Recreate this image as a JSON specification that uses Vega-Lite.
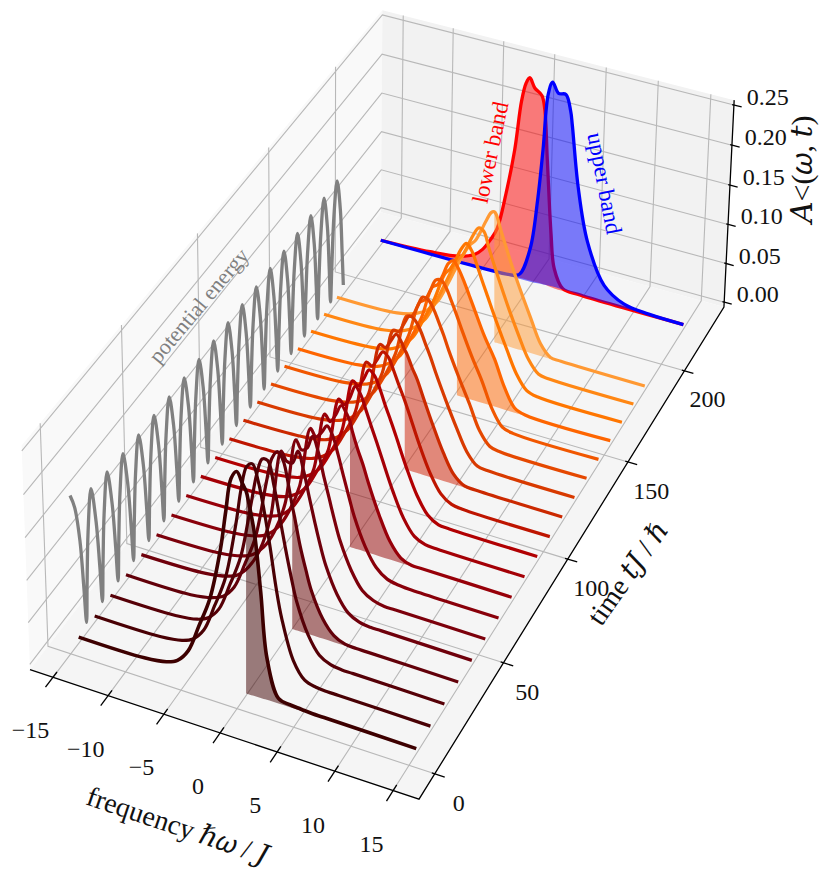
{
"$schema":"https://vega.github.io/schema/vega-lite/v6.json",
"autosize":{"type":"fit","contains":"padding"},
"width":829,"height":871,"padding":0,
"background":"white",
"config":{"view":{"stroke":null},"text":{"font":"Liberation Serif, DejaVu Serif","color":"#111111"}},
"data":{"values":[
{"k":"pane","id":"left","i":0,"w":-17.1,"t":-10.96,"a":-0.0063},{"k":"pane","id":"left","i":1,"w":-17.1,"t":236.9,"a":-0.0063},{"k":"pane","id":"left","i":2,"w":-17.1,"t":236.9,"a":0.256},{"k":"pane","id":"left","i":3,"w":-17.1,"t":-10.96,"a":0.256},
{"k":"pane","id":"back","i":0,"w":-17.1,"t":236.9,"a":-0.0063},{"k":"pane","id":"back","i":1,"w":17.2,"t":236.9,"a":-0.0063},{"k":"pane","id":"back","i":2,"w":17.2,"t":236.9,"a":0.256},{"k":"pane","id":"back","i":3,"w":-17.1,"t":236.9,"a":0.256},
{"k":"pane","id":"floor","i":0,"w":-17.1,"t":-10.96,"a":-0.0063},{"k":"pane","id":"floor","i":1,"w":17.2,"t":-10.96,"a":-0.0063},{"k":"pane","id":"floor","i":2,"w":17.2,"t":236.9,"a":-0.0063},{"k":"pane","id":"floor","i":3,"w":-17.1,"t":236.9,"a":-0.0063},

{"k":"grid","id":"w-15","i":0,"w":-15,"t":-10.96,"a":-0.0063},{"k":"grid","id":"w-15","i":1,"w":-15,"t":236.9,"a":-0.0063},{"k":"grid","id":"w-15","i":2,"w":-15,"t":236.9,"a":0.256},
{"k":"grid","id":"w-10","i":0,"w":-10,"t":-10.96,"a":-0.0063},{"k":"grid","id":"w-10","i":1,"w":-10,"t":236.9,"a":-0.0063},{"k":"grid","id":"w-10","i":2,"w":-10,"t":236.9,"a":0.256},
{"k":"grid","id":"w-5","i":0,"w":-5,"t":-10.96,"a":-0.0063},{"k":"grid","id":"w-5","i":1,"w":-5,"t":236.9,"a":-0.0063},{"k":"grid","id":"w-5","i":2,"w":-5,"t":236.9,"a":0.256},
{"k":"grid","id":"w0","i":0,"w":0,"t":-10.96,"a":-0.0063},{"k":"grid","id":"w0","i":1,"w":0,"t":236.9,"a":-0.0063},{"k":"grid","id":"w0","i":2,"w":0,"t":236.9,"a":0.256},
{"k":"grid","id":"w5","i":0,"w":5,"t":-10.96,"a":-0.0063},{"k":"grid","id":"w5","i":1,"w":5,"t":236.9,"a":-0.0063},{"k":"grid","id":"w5","i":2,"w":5,"t":236.9,"a":0.256},
{"k":"grid","id":"w10","i":0,"w":10,"t":-10.96,"a":-0.0063},{"k":"grid","id":"w10","i":1,"w":10,"t":236.9,"a":-0.0063},{"k":"grid","id":"w10","i":2,"w":10,"t":236.9,"a":0.256},
{"k":"grid","id":"w15","i":0,"w":15,"t":-10.96,"a":-0.0063},{"k":"grid","id":"w15","i":1,"w":15,"t":236.9,"a":-0.0063},{"k":"grid","id":"w15","i":2,"w":15,"t":236.9,"a":0.256},
{"k":"grid","id":"t0","i":0,"w":17.2,"t":0,"a":-0.0063},{"k":"grid","id":"t0","i":1,"w":-17.1,"t":0,"a":-0.0063},{"k":"grid","id":"t0","i":2,"w":-17.1,"t":0,"a":0.256},
{"k":"grid","id":"t50","i":0,"w":17.2,"t":50,"a":-0.0063},{"k":"grid","id":"t50","i":1,"w":-17.1,"t":50,"a":-0.0063},{"k":"grid","id":"t50","i":2,"w":-17.1,"t":50,"a":0.256},
{"k":"grid","id":"t100","i":0,"w":17.2,"t":100,"a":-0.0063},{"k":"grid","id":"t100","i":1,"w":-17.1,"t":100,"a":-0.0063},{"k":"grid","id":"t100","i":2,"w":-17.1,"t":100,"a":0.256},
{"k":"grid","id":"t150","i":0,"w":17.2,"t":150,"a":-0.0063},{"k":"grid","id":"t150","i":1,"w":-17.1,"t":150,"a":-0.0063},{"k":"grid","id":"t150","i":2,"w":-17.1,"t":150,"a":0.256},
{"k":"grid","id":"t200","i":0,"w":17.2,"t":200,"a":-0.0063},{"k":"grid","id":"t200","i":1,"w":-17.1,"t":200,"a":-0.0063},{"k":"grid","id":"t200","i":2,"w":-17.1,"t":200,"a":0.256},
{"k":"grid","id":"a0","i":0,"w":-17.1,"t":-10.96,"a":0},{"k":"grid","id":"a0","i":1,"w":-17.1,"t":236.9,"a":0},{"k":"grid","id":"a0","i":2,"w":17.2,"t":236.9,"a":0},
{"k":"grid","id":"a5","i":0,"w":-17.1,"t":-10.96,"a":0.05},{"k":"grid","id":"a5","i":1,"w":-17.1,"t":236.9,"a":0.05},{"k":"grid","id":"a5","i":2,"w":17.2,"t":236.9,"a":0.05},
{"k":"grid","id":"a10","i":0,"w":-17.1,"t":-10.96,"a":0.1},{"k":"grid","id":"a10","i":1,"w":-17.1,"t":236.9,"a":0.1},{"k":"grid","id":"a10","i":2,"w":17.2,"t":236.9,"a":0.1},
{"k":"grid","id":"a15","i":0,"w":-17.1,"t":-10.96,"a":0.15},{"k":"grid","id":"a15","i":1,"w":-17.1,"t":236.9,"a":0.15},{"k":"grid","id":"a15","i":2,"w":17.2,"t":236.9,"a":0.15},
{"k":"grid","id":"a20","i":0,"w":-17.1,"t":-10.96,"a":0.2},{"k":"grid","id":"a20","i":1,"w":-17.1,"t":236.9,"a":0.2},{"k":"grid","id":"a20","i":2,"w":17.2,"t":236.9,"a":0.2},
{"k":"grid","id":"a25","i":0,"w":-17.1,"t":-10.96,"a":0.25},{"k":"grid","id":"a25","i":1,"w":-17.1,"t":236.9,"a":0.25},{"k":"grid","id":"a25","i":2,"w":17.2,"t":236.9,"a":0.25},

{"k":"axis","id":"box","i":0,"w":-17.1,"t":-10.96,"a":-0.0063},{"k":"axis","id":"box","i":1,"w":17.2,"t":-10.96,"a":-0.0063},{"k":"axis","id":"box","i":2,"w":17.2,"t":236.9,"a":-0.0063},{"k":"axis","id":"box","i":3,"w":17.2,"t":236.9,"a":0.256},

{"k":"axis","id":"xt-15","i":0,"w":-15,"t":-8.5,"a":-0.0063},{"k":"axis","id":"xt-15","i":1,"w":-15,"t":-15.5,"a":-0.0063},
{"k":"axis","id":"xt-10","i":0,"w":-10,"t":-8.5,"a":-0.0063},{"k":"axis","id":"xt-10","i":1,"w":-10,"t":-15.5,"a":-0.0063},
{"k":"axis","id":"xt-5","i":0,"w":-5,"t":-8.5,"a":-0.0063},{"k":"axis","id":"xt-5","i":1,"w":-5,"t":-15.5,"a":-0.0063},
{"k":"axis","id":"xt0","i":0,"w":0,"t":-8.5,"a":-0.0063},{"k":"axis","id":"xt0","i":1,"w":0,"t":-15.5,"a":-0.0063},
{"k":"axis","id":"xt5","i":0,"w":5,"t":-8.5,"a":-0.0063},{"k":"axis","id":"xt5","i":1,"w":5,"t":-15.5,"a":-0.0063},
{"k":"axis","id":"xt10","i":0,"w":10,"t":-8.5,"a":-0.0063},{"k":"axis","id":"xt10","i":1,"w":10,"t":-15.5,"a":-0.0063},
{"k":"axis","id":"xt15","i":0,"w":15,"t":-8.5,"a":-0.0063},{"k":"axis","id":"xt15","i":1,"w":15,"t":-15.5,"a":-0.0063},
{"k":"axis","id":"yt0","i":0,"w":16.95,"t":0,"a":-0.0063},{"k":"axis","id":"yt0","i":1,"w":18.05,"t":0,"a":-0.0063},
{"k":"axis","id":"yt50","i":0,"w":16.95,"t":50,"a":-0.0063},{"k":"axis","id":"yt50","i":1,"w":18.05,"t":50,"a":-0.0063},
{"k":"axis","id":"yt100","i":0,"w":16.95,"t":100,"a":-0.0063},{"k":"axis","id":"yt100","i":1,"w":18.05,"t":100,"a":-0.0063},
{"k":"axis","id":"yt150","i":0,"w":16.95,"t":150,"a":-0.0063},{"k":"axis","id":"yt150","i":1,"w":18.05,"t":150,"a":-0.0063},
{"k":"axis","id":"yt200","i":0,"w":16.95,"t":200,"a":-0.0063},{"k":"axis","id":"yt200","i":1,"w":18.05,"t":200,"a":-0.0063},
{"k":"axis","id":"zt0","i":0,"w":17.03,"t":236.9,"a":0},{"k":"axis","id":"zt0","i":1,"w":17.93,"t":236.9,"a":0},
{"k":"axis","id":"zt5","i":0,"w":17.03,"t":236.9,"a":0.05},{"k":"axis","id":"zt5","i":1,"w":17.93,"t":236.9,"a":0.05},
{"k":"axis","id":"zt10","i":0,"w":17.03,"t":236.9,"a":0.1},{"k":"axis","id":"zt10","i":1,"w":17.93,"t":236.9,"a":0.1},
{"k":"axis","id":"zt15","i":0,"w":17.03,"t":236.9,"a":0.15},{"k":"axis","id":"zt15","i":1,"w":17.93,"t":236.9,"a":0.15},
{"k":"axis","id":"zt20","i":0,"w":17.03,"t":236.9,"a":0.2},{"k":"axis","id":"zt20","i":1,"w":17.93,"t":236.9,"a":0.2},
{"k":"axis","id":"zt25","i":0,"w":17.03,"t":236.9,"a":0.25},{"k":"axis","id":"zt25","i":1,"w":17.93,"t":236.9,"a":0.25},

{"k":"lx","l":"−15","w":-15,"t":-15.5,"a":-0.0063},{"k":"lx","l":"−10","w":-10,"t":-15.5,"a":-0.0063},{"k":"lx","l":"−5","w":-5,"t":-15.5,"a":-0.0063},{"k":"lx","l":"0","w":0,"t":-15.5,"a":-0.0063},{"k":"lx","l":"5","w":5,"t":-15.5,"a":-0.0063},{"k":"lx","l":"10","w":10,"t":-15.5,"a":-0.0063},{"k":"lx","l":"15","w":15,"t":-15.5,"a":-0.0063},
{"k":"ly","l":"0","w":18.05,"t":0,"a":-0.0063},{"k":"ly","l":"50","w":18.05,"t":50,"a":-0.0063},{"k":"ly","l":"100","w":18.05,"t":100,"a":-0.0063},{"k":"ly","l":"150","w":18.05,"t":150,"a":-0.0063},{"k":"ly","l":"200","w":18.05,"t":200,"a":-0.0063},
{"k":"lz","l":"0.00","w":17.93,"t":236.9,"a":0},{"k":"lz","l":"0.05","w":17.93,"t":236.9,"a":0.05},{"k":"lz","l":"0.10","w":17.93,"t":236.9,"a":0.1},{"k":"lz","l":"0.15","w":17.93,"t":236.9,"a":0.15},{"k":"lz","l":"0.20","w":17.93,"t":236.9,"a":0.2},{"k":"lz","l":"0.25","w":17.93,"t":236.9,"a":0.25},
{"k":"tx","l":"frequency ℏ𝜔 / 𝐽","w":1.55,"t":-49.1,"a":-0.0063},
{"k":"ty","l":"time 𝑡𝐽 / ℏ","w":22.5,"t":101.6,"a":-0.0063},
{"k":"tz","l":"𝐴˂(𝜔, 𝑡)","w":16.67,"t":321.7,"a":-0.0063},
{"k":"tp","l":"potential energy","w":-17.1,"t":100.3,"a":0.168},
{"k":"tl","l":"lower band","w":-4.1,"t":220,"a":0.152},
{"k":"tu","l":"upper band","w":6.9,"t":220,"a":0.151},

{"k":"p","t":2.5,"a":0.175},{"k":"p","t":5,"a":0.155},{"k":"p","t":7.5,"a":0.11},{"k":"p","t":9,"a":0.05},{"k":"p","t":10,"a":0.006},
{"k":"p","t":11,"a":0.05},{"k":"p","t":12.5,"a":0.108},{"k":"p","t":15,"a":0.153},{"k":"p","t":17.5,"a":0.108},{"k":"p","t":19,"a":0.05},{"k":"p","t":20,"a":0.006},
{"k":"p","t":21,"a":0.05},{"k":"p","t":22.5,"a":0.106},{"k":"p","t":25,"a":0.149},{"k":"p","t":27.5,"a":0.106},{"k":"p","t":29,"a":0.05},{"k":"p","t":30,"a":0.006},
{"k":"p","t":31,"a":0.05},{"k":"p","t":32.5,"a":0.105},{"k":"p","t":35,"a":0.147},{"k":"p","t":37.5,"a":0.105},{"k":"p","t":39,"a":0.05},{"k":"p","t":40,"a":0.006},
{"k":"p","t":41,"a":0.05},{"k":"p","t":42.5,"a":0.105},{"k":"p","t":45,"a":0.146},{"k":"p","t":47.5,"a":0.105},{"k":"p","t":49,"a":0.05},{"k":"p","t":50,"a":0.006},
{"k":"p","t":51,"a":0.05},{"k":"p","t":52.5,"a":0.105},{"k":"p","t":55,"a":0.146},{"k":"p","t":57.5,"a":0.105},{"k":"p","t":59,"a":0.05},{"k":"p","t":60,"a":0.006},
{"k":"p","t":61,"a":0.05},{"k":"p","t":62.5,"a":0.105},{"k":"p","t":65,"a":0.145},{"k":"p","t":67.5,"a":0.105},{"k":"p","t":69,"a":0.05},{"k":"p","t":70,"a":0.006},
{"k":"p","t":71,"a":0.05},{"k":"p","t":72.5,"a":0.105},{"k":"p","t":75,"a":0.145},{"k":"p","t":77.5,"a":0.105},{"k":"p","t":79,"a":0.05},{"k":"p","t":80,"a":0.006},
{"k":"p","t":81,"a":0.05},{"k":"p","t":82.5,"a":0.105},{"k":"p","t":85,"a":0.145},{"k":"p","t":87.5,"a":0.105},{"k":"p","t":89,"a":0.05},{"k":"p","t":90,"a":0.006},
{"k":"p","t":91,"a":0.05},{"k":"p","t":92.5,"a":0.105},{"k":"p","t":95,"a":0.145},{"k":"p","t":97.5,"a":0.105},{"k":"p","t":99,"a":0.05},{"k":"p","t":100,"a":0.006},
{"k":"p","t":101,"a":0.05},{"k":"p","t":102.5,"a":0.105},{"k":"p","t":105,"a":0.145},{"k":"p","t":107.5,"a":0.105},{"k":"p","t":109,"a":0.05},{"k":"p","t":110,"a":0.006},
{"k":"p","t":111,"a":0.05},{"k":"p","t":112.5,"a":0.105},{"k":"p","t":115,"a":0.145},{"k":"p","t":117.5,"a":0.105},{"k":"p","t":119,"a":0.05},{"k":"p","t":120,"a":0.006},
{"k":"p","t":121,"a":0.05},{"k":"p","t":122.5,"a":0.105},{"k":"p","t":125,"a":0.145},{"k":"p","t":127.5,"a":0.105},{"k":"p","t":129,"a":0.05},{"k":"p","t":130,"a":0.006},
{"k":"p","t":131,"a":0.05},{"k":"p","t":132.5,"a":0.106},{"k":"p","t":135,"a":0.146},{"k":"p","t":137.5,"a":0.106},{"k":"p","t":139,"a":0.05},{"k":"p","t":140,"a":0.006},
{"k":"p","t":141,"a":0.05},{"k":"p","t":142.5,"a":0.106},{"k":"p","t":145,"a":0.146},{"k":"p","t":147.5,"a":0.106},{"k":"p","t":149,"a":0.05},{"k":"p","t":150,"a":0.006},
{"k":"p","t":151,"a":0.05},{"k":"p","t":152.5,"a":0.106},{"k":"p","t":155,"a":0.147},{"k":"p","t":157.5,"a":0.106},{"k":"p","t":159,"a":0.05},{"k":"p","t":160,"a":0.006},
{"k":"p","t":161,"a":0.05},{"k":"p","t":162.5,"a":0.107},{"k":"p","t":165,"a":0.148},{"k":"p","t":167.5,"a":0.107},{"k":"p","t":169,"a":0.05},{"k":"p","t":170,"a":0.006},
{"k":"p","t":171,"a":0.05},{"k":"p","t":172.5,"a":0.108},{"k":"p","t":175,"a":0.149},{"k":"p","t":177.5,"a":0.108},{"k":"p","t":179,"a":0.05},{"k":"p","t":180,"a":0.006},
{"k":"p","t":181,"a":0.05},{"k":"p","t":182.5,"a":0.109},{"k":"p","t":185,"a":0.15},{"k":"p","t":187.5,"a":0.109},{"k":"p","t":189,"a":0.05},{"k":"p","t":190,"a":0.006},

{"k":"red","t":220,"w":-15,"a":0},{"k":"red","t":220,"w":-10,"a":0.003},{"k":"red","t":220,"w":-7,"a":0.008},{"k":"red","t":220,"w":-5.5,"a":0.016},{"k":"red","t":220,"w":-4.75,"a":0.025},{"k":"red","t":220,"w":-4,"a":0.04},{"k":"red","t":220,"w":-3.35,"a":0.057},{"k":"red","t":220,"w":-2.55,"a":0.105},{"k":"red","t":220,"w":-1.8,"a":0.163},{"k":"red","t":220,"w":-1.25,"a":0.226},{"k":"red","t":220,"w":-0.85,"a":0.25},{"k":"red","t":220,"w":-0.5,"a":0.258},{"k":"red","t":220,"w":0,"a":0.247},{"k":"red","t":220,"w":0.7,"a":0.24},{"k":"red","t":220,"w":1,"a":0.225},{"k":"red","t":220,"w":1.4,"a":0.16},{"k":"red","t":220,"w":1.95,"a":0.069},{"k":"red","t":220,"w":2.35,"a":0.026},{"k":"red","t":220,"w":3.25,"a":0.003},{"k":"red","t":220,"w":5,"a":0.001},{"k":"red","t":220,"w":15,"a":0},
{"k":"blue","t":220,"w":-15,"a":0},{"k":"blue","t":220,"w":-5,"a":0.0005},{"k":"blue","t":220,"w":-2,"a":0.002},{"k":"blue","t":220,"w":-1.05,"a":0.006},{"k":"blue","t":220,"w":-0.05,"a":0.043},{"k":"blue","t":220,"w":0.55,"a":0.107},{"k":"blue","t":220,"w":0.95,"a":0.173},{"k":"blue","t":220,"w":1.3,"a":0.243},{"k":"blue","t":220,"w":1.7,"a":0.26},{"k":"blue","t":220,"w":2.3,"a":0.248},{"k":"blue","t":220,"w":3,"a":0.249},{"k":"blue","t":220,"w":3.5,"a":0.23},{"k":"blue","t":220,"w":3.7,"a":0.213},{"k":"blue","t":220,"w":4.45,"a":0.137},{"k":"blue","t":220,"w":5.5,"a":0.072},{"k":"blue","t":220,"w":7.25,"a":0.022},{"k":"blue","t":220,"w":9.25,"a":0.005},{"k":"blue","t":220,"w":11.65,"a":0.001},{"k":"blue","t":220,"w":15,"a":0},

{"k":"s","t":185,"w":-15,"a":0.001},{"k":"s","t":185,"w":-9,"a":0.003},{"k":"s","t":185,"w":-7,"a":0.01},{"k":"s","t":185,"w":-6,"a":0.018},{"k":"s","t":185,"w":-5,"a":0.033},{"k":"s","t":185,"w":-4,"a":0.06},{"k":"s","t":185,"w":-3,"a":0.09},{"k":"s","t":185,"w":-2,"a":0.115},{"k":"s","t":185,"w":-1.5,"a":0.122},{"k":"s","t":185,"w":-1,"a":0.135},{"k":"s","t":185,"w":-0.5,"a":0.15},{"k":"s","t":185,"w":0,"a":0.163},{"k":"s","t":185,"w":0.3,"a":0.165},{"k":"s","t":185,"w":0.5,"a":0.162},{"k":"s","t":185,"w":1,"a":0.143},{"k":"s","t":185,"w":1.5,"a":0.125},{"k":"s","t":185,"w":2,"a":0.107},{"k":"s","t":185,"w":3,"a":0.075},{"k":"s","t":185,"w":4,"a":0.045},{"k":"s","t":185,"w":5,"a":0.016},{"k":"s","t":185,"w":6,"a":0.002},{"k":"s","t":185,"w":7,"a":0.001},{"k":"s","t":185,"w":15,"a":0},
{"k":"s","t":175,"w":-15,"a":0.001},{"k":"s","t":175,"w":-9,"a":0.003},{"k":"s","t":175,"w":-7,"a":0.01},{"k":"s","t":175,"w":-6,"a":0.018},{"k":"s","t":175,"w":-5,"a":0.032},{"k":"s","t":175,"w":-4,"a":0.058},{"k":"s","t":175,"w":-3,"a":0.088},{"k":"s","t":175,"w":-2,"a":0.118},{"k":"s","t":175,"w":-1.5,"a":0.126},{"k":"s","t":175,"w":-1,"a":0.14},{"k":"s","t":175,"w":-0.5,"a":0.155},{"k":"s","t":175,"w":0,"a":0.165},{"k":"s","t":175,"w":0.5,"a":0.162},{"k":"s","t":175,"w":1,"a":0.143},{"k":"s","t":175,"w":1.5,"a":0.125},{"k":"s","t":175,"w":2,"a":0.108},{"k":"s","t":175,"w":3,"a":0.075},{"k":"s","t":175,"w":4,"a":0.045},{"k":"s","t":175,"w":5,"a":0.018},{"k":"s","t":175,"w":6,"a":0.003},{"k":"s","t":175,"w":7,"a":0.001},{"k":"s","t":175,"w":15,"a":0},
{"k":"s","t":165,"w":-15,"a":0.001},{"k":"s","t":165,"w":-9,"a":0.003},{"k":"s","t":165,"w":-7,"a":0.009},{"k":"s","t":165,"w":-6,"a":0.017},{"k":"s","t":165,"w":-5,"a":0.031},{"k":"s","t":165,"w":-4,"a":0.057},{"k":"s","t":165,"w":-3,"a":0.086},{"k":"s","t":165,"w":-2,"a":0.122},{"k":"s","t":165,"w":-1.5,"a":0.13},{"k":"s","t":165,"w":-1,"a":0.143},{"k":"s","t":165,"w":-0.5,"a":0.158},{"k":"s","t":165,"w":0,"a":0.167},{"k":"s","t":165,"w":0.5,"a":0.16},{"k":"s","t":165,"w":1,"a":0.145},{"k":"s","t":165,"w":1.5,"a":0.128},{"k":"s","t":165,"w":2,"a":0.112},{"k":"s","t":165,"w":3,"a":0.08},{"k":"s","t":165,"w":4,"a":0.05},{"k":"s","t":165,"w":5,"a":0.022},{"k":"s","t":165,"w":6,"a":0.005},{"k":"s","t":165,"w":7,"a":0.001},{"k":"s","t":165,"w":15,"a":0},
{"k":"s","t":155,"w":-15,"a":0.001},{"k":"s","t":155,"w":-9,"a":0.003},{"k":"s","t":155,"w":-7,"a":0.009},{"k":"s","t":155,"w":-6,"a":0.017},{"k":"s","t":155,"w":-5,"a":0.03},{"k":"s","t":155,"w":-4,"a":0.056},{"k":"s","t":155,"w":-3,"a":0.085},{"k":"s","t":155,"w":-2,"a":0.127},{"k":"s","t":155,"w":-1.5,"a":0.132},{"k":"s","t":155,"w":-1,"a":0.146},{"k":"s","t":155,"w":-0.5,"a":0.162},{"k":"s","t":155,"w":0,"a":0.167},{"k":"s","t":155,"w":0.3,"a":0.162},{"k":"s","t":155,"w":0.5,"a":0.158},{"k":"s","t":155,"w":1,"a":0.145},{"k":"s","t":155,"w":1.5,"a":0.13},{"k":"s","t":155,"w":2,"a":0.115},{"k":"s","t":155,"w":3,"a":0.085},{"k":"s","t":155,"w":4,"a":0.06},{"k":"s","t":155,"w":5,"a":0.028},{"k":"s","t":155,"w":6,"a":0.006},{"k":"s","t":155,"w":7,"a":0.001},{"k":"s","t":155,"w":15,"a":0},
{"k":"s","t":145,"w":-15,"a":0.001},{"k":"s","t":145,"w":-9,"a":0.003},{"k":"s","t":145,"w":-7,"a":0.009},{"k":"s","t":145,"w":-6,"a":0.016},{"k":"s","t":145,"w":-5,"a":0.03},{"k":"s","t":145,"w":-4,"a":0.055},{"k":"s","t":145,"w":-3,"a":0.085},{"k":"s","t":145,"w":-2,"a":0.13},{"k":"s","t":145,"w":-1.5,"a":0.135},{"k":"s","t":145,"w":-1,"a":0.148},{"k":"s","t":145,"w":-0.5,"a":0.163},{"k":"s","t":145,"w":0,"a":0.165},{"k":"s","t":145,"w":0.5,"a":0.157},{"k":"s","t":145,"w":1,"a":0.143},{"k":"s","t":145,"w":1.5,"a":0.128},{"k":"s","t":145,"w":2,"a":0.112},{"k":"s","t":145,"w":3,"a":0.082},{"k":"s","t":145,"w":4,"a":0.055},{"k":"s","t":145,"w":5,"a":0.024},{"k":"s","t":145,"w":6,"a":0.005},{"k":"s","t":145,"w":7,"a":0.001},{"k":"s","t":145,"w":15,"a":0},
{"k":"s","t":135,"w":-15,"a":0.001},{"k":"s","t":135,"w":-9,"a":0.003},{"k":"s","t":135,"w":-7,"a":0.009},{"k":"s","t":135,"w":-6,"a":0.016},{"k":"s","t":135,"w":-5,"a":0.03},{"k":"s","t":135,"w":-4,"a":0.054},{"k":"s","t":135,"w":-3,"a":0.085},{"k":"s","t":135,"w":-2,"a":0.135},{"k":"s","t":135,"w":-1.5,"a":0.137},{"k":"s","t":135,"w":-1,"a":0.15},{"k":"s","t":135,"w":-0.5,"a":0.164},{"k":"s","t":135,"w":0,"a":0.163},{"k":"s","t":135,"w":0.5,"a":0.154},{"k":"s","t":135,"w":1,"a":0.14},{"k":"s","t":135,"w":1.5,"a":0.125},{"k":"s","t":135,"w":2,"a":0.108},{"k":"s","t":135,"w":3,"a":0.078},{"k":"s","t":135,"w":4,"a":0.05},{"k":"s","t":135,"w":5,"a":0.02},{"k":"s","t":135,"w":6,"a":0.004},{"k":"s","t":135,"w":7,"a":0.001},{"k":"s","t":135,"w":15,"a":0},
{"k":"s","t":125,"w":-15,"a":0.001},{"k":"s","t":125,"w":-9,"a":0.003},{"k":"s","t":125,"w":-7,"a":0.009},{"k":"s","t":125,"w":-6,"a":0.016},{"k":"s","t":125,"w":-5,"a":0.029},{"k":"s","t":125,"w":-4,"a":0.053},{"k":"s","t":125,"w":-3,"a":0.084},{"k":"s","t":125,"w":-2,"a":0.14},{"k":"s","t":125,"w":-1.5,"a":0.14},{"k":"s","t":125,"w":-1,"a":0.152},{"k":"s","t":125,"w":-0.5,"a":0.163},{"k":"s","t":125,"w":0,"a":0.16},{"k":"s","t":125,"w":0.5,"a":0.15},{"k":"s","t":125,"w":1,"a":0.135},{"k":"s","t":125,"w":1.5,"a":0.12},{"k":"s","t":125,"w":2,"a":0.103},{"k":"s","t":125,"w":3,"a":0.072},{"k":"s","t":125,"w":4,"a":0.043},{"k":"s","t":125,"w":5,"a":0.017},{"k":"s","t":125,"w":6,"a":0.003},{"k":"s","t":125,"w":7,"a":0.001},{"k":"s","t":125,"w":15,"a":0},
{"k":"s","t":115,"w":-15,"a":0.001},{"k":"s","t":115,"w":-9,"a":0.003},{"k":"s","t":115,"w":-7,"a":0.008},{"k":"s","t":115,"w":-6,"a":0.015},{"k":"s","t":115,"w":-5,"a":0.028},{"k":"s","t":115,"w":-4,"a":0.052},{"k":"s","t":115,"w":-3,"a":0.082},{"k":"s","t":115,"w":-2,"a":0.145},{"k":"s","t":115,"w":-1.5,"a":0.143},{"k":"s","t":115,"w":-1,"a":0.153},{"k":"s","t":115,"w":-0.5,"a":0.163},{"k":"s","t":115,"w":0,"a":0.155},{"k":"s","t":115,"w":0.3,"a":0.147},{"k":"s","t":115,"w":0.5,"a":0.143},{"k":"s","t":115,"w":1,"a":0.128},{"k":"s","t":115,"w":1.5,"a":0.115},{"k":"s","t":115,"w":2,"a":0.098},{"k":"s","t":115,"w":3,"a":0.065},{"k":"s","t":115,"w":4,"a":0.035},{"k":"s","t":115,"w":5,"a":0.012},{"k":"s","t":115,"w":6,"a":0.002},{"k":"s","t":115,"w":7,"a":0.001},{"k":"s","t":115,"w":15,"a":0},
{"k":"s","t":105,"w":-15,"a":0.001},{"k":"s","t":105,"w":-9,"a":0.003},{"k":"s","t":105,"w":-7,"a":0.008},{"k":"s","t":105,"w":-6,"a":0.015},{"k":"s","t":105,"w":-5,"a":0.028},{"k":"s","t":105,"w":-4,"a":0.052},{"k":"s","t":105,"w":-3,"a":0.082},{"k":"s","t":105,"w":-2,"a":0.146},{"k":"s","t":105,"w":-1.5,"a":0.143},{"k":"s","t":105,"w":-1,"a":0.153},{"k":"s","t":105,"w":-0.5,"a":0.164},{"k":"s","t":105,"w":0,"a":0.16},{"k":"s","t":105,"w":0.5,"a":0.146},{"k":"s","t":105,"w":1,"a":0.13},{"k":"s","t":105,"w":1.5,"a":0.115},{"k":"s","t":105,"w":2,"a":0.098},{"k":"s","t":105,"w":3,"a":0.063},{"k":"s","t":105,"w":4,"a":0.033},{"k":"s","t":105,"w":5,"a":0.012},{"k":"s","t":105,"w":6,"a":0.003},{"k":"s","t":105,"w":7,"a":0.001},{"k":"s","t":105,"w":15,"a":0},
{"k":"s","t":95,"w":-15,"a":0.001},{"k":"s","t":95,"w":-9,"a":0.003},{"k":"s","t":95,"w":-7,"a":0.008},{"k":"s","t":95,"w":-6,"a":0.015},{"k":"s","t":95,"w":-5,"a":0.028},{"k":"s","t":95,"w":-4,"a":0.052},{"k":"s","t":95,"w":-3,"a":0.081},{"k":"s","t":95,"w":-2,"a":0.146},{"k":"s","t":95,"w":-1.5,"a":0.142},{"k":"s","t":95,"w":-1,"a":0.152},{"k":"s","t":95,"w":-0.5,"a":0.165},{"k":"s","t":95,"w":0,"a":0.16},{"k":"s","t":95,"w":0.5,"a":0.146},{"k":"s","t":95,"w":1,"a":0.128},{"k":"s","t":95,"w":1.5,"a":0.112},{"k":"s","t":95,"w":2,"a":0.095},{"k":"s","t":95,"w":3,"a":0.06},{"k":"s","t":95,"w":4,"a":0.03},{"k":"s","t":95,"w":5,"a":0.01},{"k":"s","t":95,"w":6,"a":0.002},{"k":"s","t":95,"w":7,"a":0.001},{"k":"s","t":95,"w":15,"a":0},
{"k":"s","t":85,"w":-15,"a":0.001},{"k":"s","t":85,"w":-9,"a":0.003},{"k":"s","t":85,"w":-7,"a":0.008},{"k":"s","t":85,"w":-6,"a":0.015},{"k":"s","t":85,"w":-5,"a":0.028},{"k":"s","t":85,"w":-4,"a":0.052},{"k":"s","t":85,"w":-3,"a":0.08},{"k":"s","t":85,"w":-2,"a":0.147},{"k":"s","t":85,"w":-1.5,"a":0.142},{"k":"s","t":85,"w":-1,"a":0.152},{"k":"s","t":85,"w":-0.5,"a":0.168},{"k":"s","t":85,"w":0,"a":0.16},{"k":"s","t":85,"w":0.5,"a":0.143},{"k":"s","t":85,"w":1,"a":0.125},{"k":"s","t":85,"w":1.5,"a":0.108},{"k":"s","t":85,"w":2,"a":0.09},{"k":"s","t":85,"w":3,"a":0.055},{"k":"s","t":85,"w":4,"a":0.026},{"k":"s","t":85,"w":5,"a":0.008},{"k":"s","t":85,"w":6,"a":0.002},{"k":"s","t":85,"w":7,"a":0.001},{"k":"s","t":85,"w":15,"a":0},
{"k":"s","t":75,"w":-15,"a":0.001},{"k":"s","t":75,"w":-9,"a":0.003},{"k":"s","t":75,"w":-7,"a":0.008},{"k":"s","t":75,"w":-6,"a":0.014},{"k":"s","t":75,"w":-5,"a":0.027},{"k":"s","t":75,"w":-4,"a":0.05},{"k":"s","t":75,"w":-3,"a":0.082},{"k":"s","t":75,"w":-2,"a":0.152},{"k":"s","t":75,"w":-1.5,"a":0.145},{"k":"s","t":75,"w":-1,"a":0.155},{"k":"s","t":75,"w":-0.5,"a":0.168},{"k":"s","t":75,"w":0,"a":0.16},{"k":"s","t":75,"w":0.3,"a":0.152},{"k":"s","t":75,"w":0.5,"a":0.142},{"k":"s","t":75,"w":1,"a":0.122},{"k":"s","t":75,"w":1.5,"a":0.105},{"k":"s","t":75,"w":2,"a":0.085},{"k":"s","t":75,"w":3,"a":0.05},{"k":"s","t":75,"w":4,"a":0.022},{"k":"s","t":75,"w":5,"a":0.006},{"k":"s","t":75,"w":6,"a":0.001},{"k":"s","t":75,"w":7,"a":0.001},{"k":"s","t":75,"w":15,"a":0},
{"k":"s","t":65,"w":-15,"a":0.001},{"k":"s","t":65,"w":-9,"a":0.003},{"k":"s","t":65,"w":-7,"a":0.008},{"k":"s","t":65,"w":-6,"a":0.014},{"k":"s","t":65,"w":-5,"a":0.027},{"k":"s","t":65,"w":-4,"a":0.05},{"k":"s","t":65,"w":-3,"a":0.085},{"k":"s","t":65,"w":-2,"a":0.158},{"k":"s","t":65,"w":-1.5,"a":0.15},{"k":"s","t":65,"w":-1,"a":0.157},{"k":"s","t":65,"w":-0.5,"a":0.167},{"k":"s","t":65,"w":0,"a":0.158},{"k":"s","t":65,"w":0.5,"a":0.137},{"k":"s","t":65,"w":1,"a":0.113},{"k":"s","t":65,"w":1.5,"a":0.09},{"k":"s","t":65,"w":2,"a":0.068},{"k":"s","t":65,"w":3,"a":0.036},{"k":"s","t":65,"w":4,"a":0.015},{"k":"s","t":65,"w":5,"a":0.005},{"k":"s","t":65,"w":6,"a":0.002},{"k":"s","t":65,"w":7,"a":0.001},{"k":"s","t":65,"w":15,"a":0},
{"k":"s","t":55,"w":-15,"a":0.001},{"k":"s","t":55,"w":-9,"a":0.003},{"k":"s","t":55,"w":-7,"a":0.008},{"k":"s","t":55,"w":-6,"a":0.014},{"k":"s","t":55,"w":-5,"a":0.027},{"k":"s","t":55,"w":-4,"a":0.05},{"k":"s","t":55,"w":-3,"a":0.088},{"k":"s","t":55,"w":-2,"a":0.168},{"k":"s","t":55,"w":-1.5,"a":0.158},{"k":"s","t":55,"w":-1,"a":0.162},{"k":"s","t":55,"w":-0.5,"a":0.178},{"k":"s","t":55,"w":0,"a":0.162},{"k":"s","t":55,"w":0.5,"a":0.135},{"k":"s","t":55,"w":1,"a":0.11},{"k":"s","t":55,"w":1.5,"a":0.085},{"k":"s","t":55,"w":2,"a":0.063},{"k":"s","t":55,"w":3,"a":0.032},{"k":"s","t":55,"w":4,"a":0.012},{"k":"s","t":55,"w":5,"a":0.004},{"k":"s","t":55,"w":6,"a":0.001},{"k":"s","t":55,"w":7,"a":0.001},{"k":"s","t":55,"w":15,"a":0},
{"k":"s","t":45,"w":-15,"a":0.001},{"k":"s","t":45,"w":-9,"a":0.003},{"k":"s","t":45,"w":-7,"a":0.008},{"k":"s","t":45,"w":-6,"a":0.014},{"k":"s","t":45,"w":-5,"a":0.028},{"k":"s","t":45,"w":-4,"a":0.052},{"k":"s","t":45,"w":-3,"a":0.095},{"k":"s","t":45,"w":-2,"a":0.178},{"k":"s","t":45,"w":-1.5,"a":0.168},{"k":"s","t":45,"w":-1,"a":0.168},{"k":"s","t":45,"w":-0.5,"a":0.184},{"k":"s","t":45,"w":0,"a":0.163},{"k":"s","t":45,"w":0.5,"a":0.134},{"k":"s","t":45,"w":1,"a":0.106},{"k":"s","t":45,"w":1.5,"a":0.08},{"k":"s","t":45,"w":2,"a":0.058},{"k":"s","t":45,"w":3,"a":0.028},{"k":"s","t":45,"w":4,"a":0.01},{"k":"s","t":45,"w":5,"a":0.003},{"k":"s","t":45,"w":6,"a":0.001},{"k":"s","t":45,"w":7,"a":0.001},{"k":"s","t":45,"w":15,"a":0},
{"k":"s","t":35,"w":-15,"a":0.001},{"k":"s","t":35,"w":-9,"a":0.002},{"k":"s","t":35,"w":-7,"a":0.007},{"k":"s","t":35,"w":-6,"a":0.013},{"k":"s","t":35,"w":-5,"a":0.028},{"k":"s","t":35,"w":-4,"a":0.06},{"k":"s","t":35,"w":-3,"a":0.097},{"k":"s","t":35,"w":-2,"a":0.165},{"k":"s","t":35,"w":-1.5,"a":0.195},{"k":"s","t":35,"w":-1,"a":0.205},{"k":"s","t":35,"w":-0.5,"a":0.197},{"k":"s","t":35,"w":0,"a":0.168},{"k":"s","t":35,"w":0.3,"a":0.147},{"k":"s","t":35,"w":0.5,"a":0.135},{"k":"s","t":35,"w":1,"a":0.102},{"k":"s","t":35,"w":1.5,"a":0.076},{"k":"s","t":35,"w":2,"a":0.053},{"k":"s","t":35,"w":3,"a":0.024},{"k":"s","t":35,"w":4,"a":0.008},{"k":"s","t":35,"w":5,"a":0.002},{"k":"s","t":35,"w":6,"a":0.001},{"k":"s","t":35,"w":7,"a":0.001},{"k":"s","t":35,"w":15,"a":0},
{"k":"s","t":25,"w":-15,"a":0.001},{"k":"s","t":25,"w":-9,"a":0.002},{"k":"s","t":25,"w":-7,"a":0.006},{"k":"s","t":25,"w":-6,"a":0.012},{"k":"s","t":25,"w":-5,"a":0.027},{"k":"s","t":25,"w":-4,"a":0.06},{"k":"s","t":25,"w":-3,"a":0.097},{"k":"s","t":25,"w":-2,"a":0.165},{"k":"s","t":25,"w":-1.5,"a":0.2},{"k":"s","t":25,"w":-1,"a":0.22},{"k":"s","t":25,"w":-0.5,"a":0.22},{"k":"s","t":25,"w":0,"a":0.195},{"k":"s","t":25,"w":0.5,"a":0.16},{"k":"s","t":25,"w":1,"a":0.125},{"k":"s","t":25,"w":1.5,"a":0.093},{"k":"s","t":25,"w":2,"a":0.065},{"k":"s","t":25,"w":3,"a":0.03},{"k":"s","t":25,"w":4,"a":0.01},{"k":"s","t":25,"w":5,"a":0.003},{"k":"s","t":25,"w":6,"a":0.001},{"k":"s","t":25,"w":7,"a":0.001},{"k":"s","t":25,"w":15,"a":0},
{"k":"s","t":15,"w":-15,"a":0.001},{"k":"s","t":15,"w":-9,"a":0.002},{"k":"s","t":15,"w":-7,"a":0.006},{"k":"s","t":15,"w":-6,"a":0.012},{"k":"s","t":15,"w":-5,"a":0.027},{"k":"s","t":15,"w":-4,"a":0.06},{"k":"s","t":15,"w":-3,"a":0.097},{"k":"s","t":15,"w":-2,"a":0.165},{"k":"s","t":15,"w":-1.5,"a":0.208},{"k":"s","t":15,"w":-1,"a":0.235},{"k":"s","t":15,"w":-0.5,"a":0.24},{"k":"s","t":15,"w":0,"a":0.222},{"k":"s","t":15,"w":0.5,"a":0.19},{"k":"s","t":15,"w":1,"a":0.15},{"k":"s","t":15,"w":1.5,"a":0.105},{"k":"s","t":15,"w":2,"a":0.07},{"k":"s","t":15,"w":3,"a":0.025},{"k":"s","t":15,"w":4,"a":0.006},{"k":"s","t":15,"w":5,"a":0.002},{"k":"s","t":15,"w":6,"a":0.001},{"k":"s","t":15,"w":7,"a":0.001},{"k":"s","t":15,"w":15,"a":0},
{"k":"s","t":5,"w":-15,"a":0.001},{"k":"s","t":5,"w":-9,"a":0.002},{"k":"s","t":5,"w":-7,"a":0.006},{"k":"s","t":5,"w":-6,"a":0.012},{"k":"s","t":5,"w":-5,"a":0.028},{"k":"s","t":5,"w":-4,"a":0.062},{"k":"s","t":5,"w":-3,"a":0.098},{"k":"s","t":5,"w":-2,"a":0.16},{"k":"s","t":5,"w":-1.5,"a":0.205},{"k":"s","t":5,"w":-1,"a":0.245},{"k":"s","t":5,"w":-0.5,"a":0.255},{"k":"s","t":5,"w":0,"a":0.243},{"k":"s","t":5,"w":0.3,"a":0.236},{"k":"s","t":5,"w":0.5,"a":0.225},{"k":"s","t":5,"w":1,"a":0.19},{"k":"s","t":5,"w":1.5,"a":0.125},{"k":"s","t":5,"w":2,"a":0.05},{"k":"s","t":5,"w":3,"a":0.006},{"k":"s","t":5,"w":4,"a":0.003},{"k":"s","t":5,"w":5,"a":0.002},{"k":"s","t":5,"w":6,"a":0.001},{"k":"s","t":5,"w":7,"a":0.001},{"k":"s","t":5,"w":15,"a":0}
]},
"transform":[
{"calculate":"datum.k=='p'?-15:datum.w","as":"wp"},
{"calculate":"(datum.wp+17.1)/34.3","as":"u"},
{"calculate":"(datum.t+10.96)/247.9","as":"v"},
{"calculate":"0.024+3.81*datum.a","as":"s"},
{"calculate":"1-0.03848*datum.u+0.16833*datum.v-0.028*datum.s","as":"den"},
{"calculate":"(30+372.9*datum.u+415.1*datum.v-9*datum.s)/datum.den","as":"px"},
{"calculate":"(672+99.1*datum.u-423.1*datum.v-237.5*datum.s)/datum.den","as":"py"},
{"calculate":"(672+99.1*datum.u-423.1*datum.v-5.7)/(1-0.03848*datum.u+0.16833*datum.v-0.00067)","as":"py0"}
],
"encoding":{
"x":{"field":"px","type":"quantitative","scale":{"domain":[0,829],"nice":false,"zero":false},"axis":null},
"y":{"field":"py","type":"quantitative","scale":{"domain":[871,0],"nice":false,"zero":false},"axis":null}
},
"layer":[
{"transform":[{"filter":"datum.id=='left'"}],"mark":{"type":"line","fill":"#f9f9f9","stroke":null},"encoding":{"order":{"field":"i"}}},
{"transform":[{"filter":"datum.id=='back'"}],"mark":{"type":"line","fill":"#f2f2f2","stroke":null},"encoding":{"order":{"field":"i"}}},
{"transform":[{"filter":"datum.id=='floor'"}],"mark":{"type":"line","fill":"#f5f5f5","stroke":null},"encoding":{"order":{"field":"i"}}},
{"transform":[{"filter":"datum.k=='grid'"}],"mark":{"type":"line","color":"#b8b8b8","strokeWidth":1.1},"encoding":{"detail":{"field":"id"},"order":{"field":"i"}}},
{"transform":[{"filter":"datum.k=='axis'"}],"mark":{"type":"line","color":"#000000","strokeWidth":1.3},"encoding":{"detail":{"field":"id"},"order":{"field":"i"}}},
{"transform":[{"filter":"datum.k=='p'"}],"mark":{"type":"line","color":"#808080","strokeWidth":3.3,"interpolate":"catmull-rom"},"encoding":{"order":{"field":"t"}}},

{"transform":[{"filter":"datum.k=='red'"}],"mark":{"type":"area","color":"#ff0000","opacity":0.5,"interpolate":"catmull-rom"},"encoding":{"y2":{"field":"py0"}}},
{"transform":[{"filter":"datum.k=='red'"}],"mark":{"type":"line","color":"#ff0000","strokeWidth":3.3,"interpolate":"catmull-rom"},"encoding":{"order":{"field":"w"}}},
{"transform":[{"filter":"datum.k=='blue'"}],"mark":{"type":"area","color":"#0000ff","opacity":0.5,"interpolate":"catmull-rom"},"encoding":{"y2":{"field":"py0"}}},
{"transform":[{"filter":"datum.k=='blue'"}],"mark":{"type":"line","color":"#0000ff","strokeWidth":3.3,"interpolate":"catmull-rom"},"encoding":{"order":{"field":"w"}}},

{"transform":[{"filter":"datum.k=='s'&&datum.t==185&&datum.w>=0.3"}],"mark":{"type":"area","color":"#ff9933","opacity":0.5,"interpolate":"catmull-rom"},"encoding":{"y2":{"field":"py0"}}},
{"transform":[{"filter":"datum.k=='s'&&datum.t>=165"}],"mark":{"type":"line","strokeWidth":3.2,"interpolate":"catmull-rom"},"encoding":{"detail":{"field":"t"},"order":{"field":"w"},"color":{"field":"t","type":"quantitative","legend":null,"scale":{"domain":[5,99,156,171,185],"range":["#3d0000","#b60000","#ff6600","#ff8000","#ff9933"]}}}},
{"transform":[{"filter":"datum.k=='s'&&datum.t==155&&datum.w>=0.3"}],"mark":{"type":"area","color":"#ff6600","opacity":0.5,"interpolate":"catmull-rom"},"encoding":{"y2":{"field":"py0"}}},
{"transform":[{"filter":"datum.k=='s'&&datum.t>=125&&datum.t<=155"}],"mark":{"type":"line","strokeWidth":3.2,"interpolate":"catmull-rom"},"encoding":{"detail":{"field":"t"},"order":{"field":"w"},"color":{"field":"t","type":"quantitative","legend":null,"scale":{"domain":[5,99,156,171,185],"range":["#3d0000","#b60000","#ff6600","#ff8000","#ff9933"]}}}},
{"transform":[{"filter":"datum.k=='s'&&datum.t==115&&datum.w>=0.3"}],"mark":{"type":"area","color":"#cd1c00","opacity":0.5,"interpolate":"catmull-rom"},"encoding":{"y2":{"field":"py0"}}},
{"transform":[{"filter":"datum.k=='s'&&datum.t>=85&&datum.t<=115"}],"mark":{"type":"line","strokeWidth":3.2,"interpolate":"catmull-rom"},"encoding":{"detail":{"field":"t"},"order":{"field":"w"},"color":{"field":"t","type":"quantitative","legend":null,"scale":{"domain":[5,99,156,171,185],"range":["#3d0000","#b60000","#ff6600","#ff8000","#ff9933"]}}}},
{"transform":[{"filter":"datum.k=='s'&&datum.t==75&&datum.w>=0.3"}],"mark":{"type":"area","color":"#930000","opacity":0.5,"interpolate":"catmull-rom"},"encoding":{"y2":{"field":"py0"}}},
{"transform":[{"filter":"datum.k=='s'&&datum.t>=45&&datum.t<=75"}],"mark":{"type":"line","strokeWidth":3.2,"interpolate":"catmull-rom"},"encoding":{"detail":{"field":"t"},"order":{"field":"w"},"color":{"field":"t","type":"quantitative","legend":null,"scale":{"domain":[5,99,156,171,185],"range":["#3d0000","#b60000","#ff6600","#ff8000","#ff9933"]}}}},
{"transform":[{"filter":"datum.k=='s'&&datum.t==35&&datum.w>=0.3"}],"mark":{"type":"area","color":"#660000","opacity":0.5,"interpolate":"catmull-rom"},"encoding":{"y2":{"field":"py0"}}},
{"transform":[{"filter":"datum.k=='s'&&datum.t>=15&&datum.t<=35"}],"mark":{"type":"line","strokeWidth":3.2,"interpolate":"catmull-rom"},"encoding":{"detail":{"field":"t"},"order":{"field":"w"},"color":{"field":"t","type":"quantitative","legend":null,"scale":{"domain":[5,99,156,171,185],"range":["#3d0000","#b60000","#ff6600","#ff8000","#ff9933"]}}}},
{"transform":[{"filter":"datum.k=='s'&&datum.t==5&&datum.w>=0.3"}],"mark":{"type":"area","color":"#3d0000","opacity":0.5,"interpolate":"catmull-rom"},"encoding":{"y2":{"field":"py0"}}},
{"transform":[{"filter":"datum.k=='s'&&datum.t==5"}],"mark":{"type":"line","strokeWidth":3.6,"color":"#3d0000","interpolate":"catmull-rom"},"encoding":{"order":{"field":"w"}}},

{"transform":[{"filter":"datum.k=='lx'"}],"mark":{"type":"text","fontSize":24,"dx":-15,"dy":44,"baseline":"middle"},"encoding":{"text":{"field":"l"}}},
{"transform":[{"filter":"datum.k=='ly'"}],"mark":{"type":"text","fontSize":24,"dx":14,"dy":27,"baseline":"middle"},"encoding":{"text":{"field":"l"}}},
{"transform":[{"filter":"datum.k=='lz'"}],"mark":{"type":"text","fontSize":24,"dx":26,"dy":-9,"baseline":"middle"},"encoding":{"text":{"field":"l"}}},
{"transform":[{"filter":"datum.k=='tx'"}],"mark":{"type":"text","fontSize":28,"angle":18.7,"baseline":"middle"},"encoding":{"text":{"field":"l"}}},
{"transform":[{"filter":"datum.k=='ty'"}],"mark":{"type":"text","fontSize":28,"angle":-55,"baseline":"middle"},"encoding":{"text":{"field":"l"}}},
{"transform":[{"filter":"datum.k=='tz'"}],"mark":{"type":"text","fontSize":30,"angle":-90,"baseline":"middle"},"encoding":{"text":{"field":"l"}}},
{"transform":[{"filter":"datum.k=='tp'"}],"mark":{"type":"text","fontSize":22,"angle":-50,"baseline":"middle","color":"#808080"},"encoding":{"text":{"field":"l"}}},
{"transform":[{"filter":"datum.k=='tl'"}],"mark":{"type":"text","fontSize":23,"angle":-78,"baseline":"middle","color":"#ff0000"},"encoding":{"text":{"field":"l"}}},
{"transform":[{"filter":"datum.k=='tu'"}],"mark":{"type":"text","fontSize":23,"angle":79,"baseline":"middle","color":"#0000ff"},"encoding":{"text":{"field":"l"}}}
]
}
